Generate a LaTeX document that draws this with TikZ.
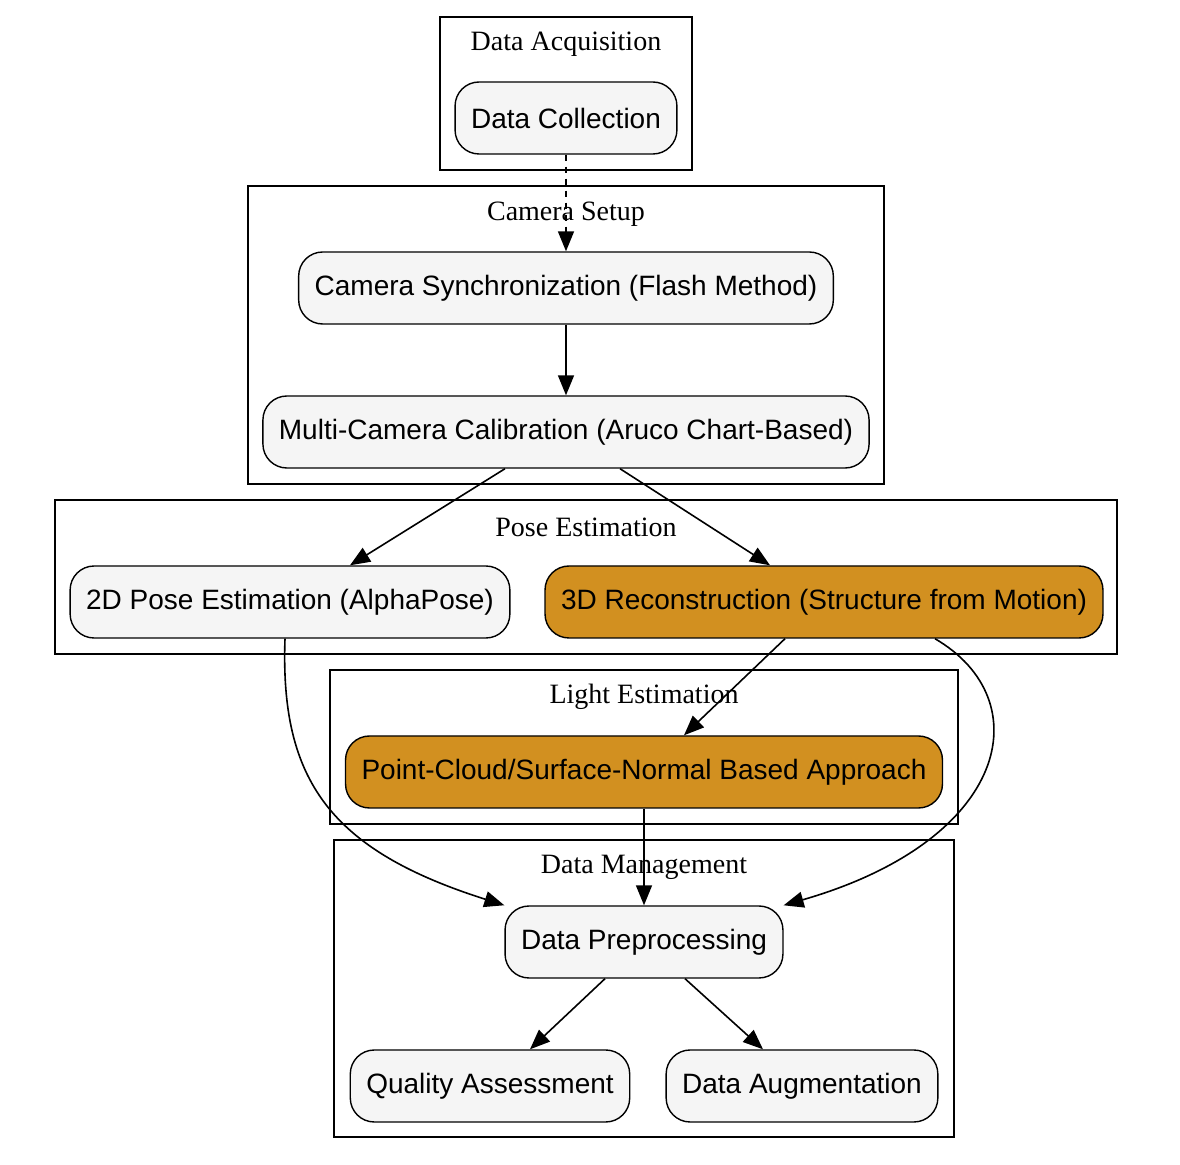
\documentclass[tikz,border=0pt]{standalone}
\usepackage{fontspec}
\setmainfont{Liberation Serif}
\setsansfont{Liberation Sans}
\usetikzlibrary{arrows.meta,positioning}
\definecolor{nodegray}{HTML}{F5F5F5}
\definecolor{ochre}{HTML}{D29020}

\begin{document}
\begin{tikzpicture}[x=0.5pt,y=-0.5pt,>={Triangle[length=10pt,width=8pt]},auto,thin]
\tikzstyle{proc}=[draw,rounded corners=12pt,fill=nodegray,minimum height=36pt,inner xsep=8pt,line width=0.7pt,font=\sffamily\fontsize{14}{17}\selectfont]
\tikzstyle{cluster}=[draw,line width=0.8pt]
\tikzstyle{title}=[font=\rmfamily\fontsize{14}{17}\selectfont]

\useasboundingbox (0,0) rectangle (1180,1165);

% clusters
\draw[cluster] (440,17) rectangle (692,170);
\draw[cluster] (248,186) rectangle (884,484);
\draw[cluster] (55,500) rectangle (1117,654);
\draw[cluster] (330,670) rectangle (958,824);
\draw[cluster] (334,840) rectangle (954,1137);

\node[title] (tAcq)   at (566,44)  {Data Acquisition};
\node[title] (tCam)   at (566,214) {Camera Setup};
\node[title] (tPose)  at (586,527) {Pose Estimation};
\node[title] (tLight) at (644,697) {Light Estimation};
\node[title] (tMgmt)  at (644,867) {Data Management};

% steps
\node[proc]		(DC) at (566,118) {Data Collection};
\node[proc]		(CS) [below of=DC,node distance=85pt] {Camera Synchronization (Flash Method)};
\node[proc]		(MC) [below of=CS,node distance=72pt] {Multi-Camera Calibration (Aruco Chart-Based)};
\node[proc]		(PE) at (290,602) {2D Pose Estimation (AlphaPose)};
\node[proc,fill=ochre]	(SR) at (824,602) {3D Reconstruction (Structure from Motion)};
\node[proc,fill=ochre]	(PC) at (644,772) {Point-Cloud/Surface-Normal Based Approach};
\node[proc]		(DP) [below of=PC,node distance=85pt] {Data Preprocessing};
\node[proc]		(QA) at (490,1086) {Quality Assessment};
\node[proc]		(DA) at (802,1086) {Data Augmentation};

\path[->,line width=0.8pt]
(DC) edge[dashed] (CS)
(CS) edge (MC)
([xshift=-30.5pt]MC.south) edge ([xshift=30pt]PE.north)
([xshift=27pt]MC.south) edge ([xshift=-27pt]SR.north)
([xshift=-19.5pt]SR.south) edge ([xshift=20pt]PC.north)
(PC) edge (DP)
([xshift=-19.5pt]DP.south) edge ([xshift=20pt]QA.north)
([xshift=20.5pt]DP.south) edge ([xshift=-19.5pt]DA.north)
;
\draw[->,line width=0.8pt] ([xshift=-2.5pt]PE.south) .. controls (280,780) and (330,850) .. (DP.north west);
\draw[->,line width=0.8pt] ([xshift=55.5pt]SR.south) .. controls (1040,700) and (1010,840) .. (DP.north east);
    \end{tikzpicture}
\end{document}
